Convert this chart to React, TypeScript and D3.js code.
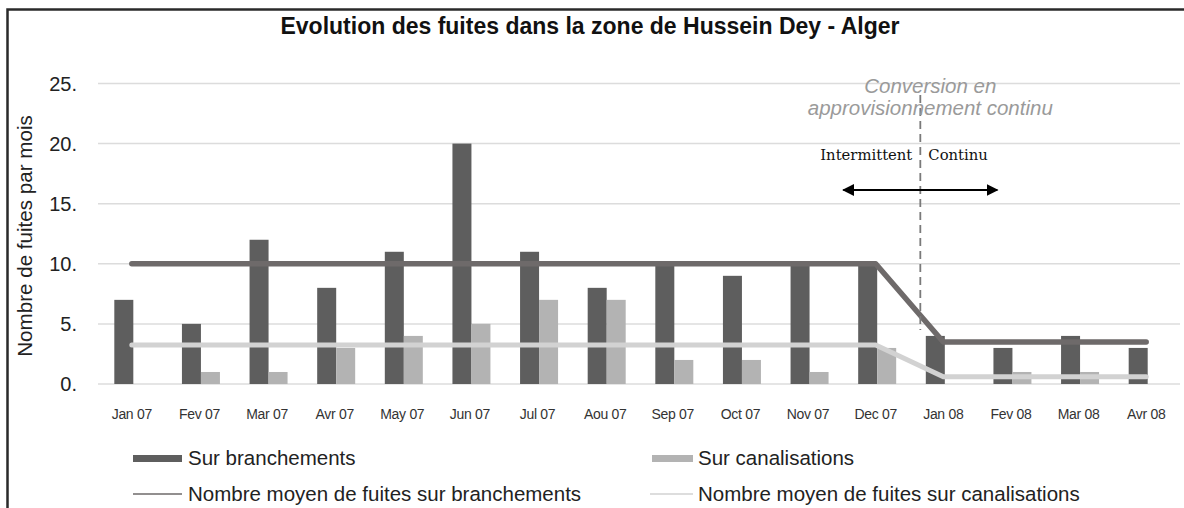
import React from "react";
import * as d3 from "d3";

const months = ["Jan 07","Fev 07","Mar 07","Avr 07","May 07","Jun 07","Jul 07","Aou 07","Sep 07","Oct 07","Nov 07","Dec 07","Jan 08","Fev 08","Mar 08","Avr 08"];
const branchements = [7,5,12,8,11,20,11,8,10,9,10,10,4,3,4,3];
const canalisations = [0,1,1,3,4,5,7,7,2,2,1,3,0,1,1,0];
const moyenBranchements = [10,10,10,10,10,10,10,10,10,10,10,10,3.5,3.5,3.5,3.5];
const moyenCanalisations = [3.25,3.25,3.25,3.25,3.25,3.25,3.25,3.25,3.25,3.25,3.25,3.25,0.6,0.6,0.6,0.6];
const yTicks = [0,5,10,15,20,25];
const yTickLabels = ["0.","5.","10.","15.","20.","25."];
const seriesKeys = ["branchements","canalisations"];
const conversionAfterIndex = 11;
const conversionFraction = 0.66;

const W = 1184, H = 508;
const DARK = "#5e5e5e", LIGHT = "#b3b3b3", DARK_MEAN = "#6e6a6a", LIGHT_MEAN = "#d2d2d2";
const FONT = "'Liberation Sans', Arial, sans-serif";

export default function App() {
  const x = d3.scaleBand<string>().domain(months).range([98, 1180]).padding(0);
  const step = x.step();
  const cx = (m: string) => (x(m) as number) + step / 2;
  const xSub = d3.scaleBand<string>().domain(seriesKeys).range([-17.5, 20.5]).padding(0);
  const y = d3.scaleLinear().domain([0, 25]).range([384, 83.5]);

  const line = d3.line<number>().x((_, i) => cx(months[i])).y((d) => y(d));
  const convX = cx(months[conversionAfterIndex]) + conversionFraction * step;

  return (
    <svg width={W} height={H} style={{ position: "absolute", left: 0, top: 0, background: "#fff" }} fontFamily={FONT}>
      <defs>
        <marker id="ah" viewBox="0 0 10 10" refX="9" refY="5" markerWidth="12" markerHeight="12" markerUnits="userSpaceOnUse" orient="auto-start-reverse">
          <path d="M0,0 L10,5 L0,10 Z" fill="#000" />
        </marker>
      </defs>
      <path d={`M7.5,${H + 5} V9.5 H${W + 5}`} fill="none" stroke="#2a2a2a" strokeWidth={2.5} />
      <text x={590} y={34} textAnchor="middle" fontWeight="bold" fontSize={23} fill="#111">
        Evolution des fuites dans la zone de Hussein Dey - Alger
      </text>
      {yTicks.map((t, i) => (
        <g key={t}>
          <line x1={98} x2={1180} y1={y(t)} y2={y(t)} stroke="#dcdcdc" strokeWidth={1.5} />
          <text x={77} y={y(t) + 7} textAnchor="end" fontSize={20} fill="#222">{yTickLabels[i]}</text>
        </g>
      ))}
      <text transform={`translate(24,236) rotate(-90)`} textAnchor="middle" dominantBaseline="central" fontSize={20.6} fill="#222">
        Nombre de fuites par mois
      </text>
      {months.map((m, i) => (
        <g key={m}>
          <rect x={cx(m) + (xSub("branchements") as number)} width={xSub.bandwidth()} y={y(branchements[i])} height={y(0) - y(branchements[i])} fill={DARK} />
          {canalisations[i] > 0 && (
            <rect x={cx(m) + (xSub("canalisations") as number)} width={xSub.bandwidth()} y={y(canalisations[i])} height={y(0) - y(canalisations[i])} fill={LIGHT} />
          )}
          <text x={cx(m)} y={419} textAnchor="middle" fontSize={14} letterSpacing={-0.3} fill="#333">{m}</text>
        </g>
      ))}
      <path d={line(moyenCanalisations) as string} fill="none" stroke={LIGHT_MEAN} strokeWidth={5} strokeLinecap="round" strokeLinejoin="round" />
      <path d={line(moyenBranchements) as string} fill="none" stroke={DARK_MEAN} strokeWidth={5.5} strokeLinecap="round" strokeLinejoin="round" />
      <line x1={convX} x2={convX} y1={95} y2={330} stroke="#7a7a7a" strokeWidth={1.8} strokeDasharray="8,5" />
      <text x={convX + 10} y={93} textAnchor="middle" fontStyle="italic" fontSize={20.5} fill="#9a9a9a">Conversion en</text>
      <text x={convX + 10} y={115} textAnchor="middle" fontStyle="italic" fontSize={20.5} fill="#9a9a9a">approvisionnement continu</text>
      <text x={convX - 8} y={160} textAnchor="end" fontFamily="'DejaVu Serif', serif" fontSize={14.8} fill="#111">Intermittent</text>
      <text x={convX + 8} y={160} textAnchor="start" fontFamily="'DejaVu Serif', serif" fontSize={14.8} fill="#111">Continu</text>
      <line x1={convX - 77} x2={convX + 77} y1={190} y2={190} stroke="#000" strokeWidth={2} markerStart="url(#ah)" markerEnd="url(#ah)" />
      <g fontSize={20.5} fill="#222">
        <rect x={133} y={455} width={49} height={7} fill={DARK} />
        <text x={188} y={465}>Sur branchements</text>
        <line x1={133} x2={182} y1={494} y2={494} stroke={DARK_MEAN} strokeWidth={1.5} />
        <text x={188} y={501}>Nombre moyen de fuites sur branchements</text>
        <rect x={652} y={455} width={41} height={7} fill={LIGHT} />
        <text x={698} y={465}>Sur canalisations</text>
        <line x1={650} x2={693} y1={494} y2={494} stroke={LIGHT_MEAN} strokeWidth={1.5} />
        <text x={698} y={501}>Nombre moyen de fuites sur canalisations</text>
      </g>
    </svg>
  );
}
